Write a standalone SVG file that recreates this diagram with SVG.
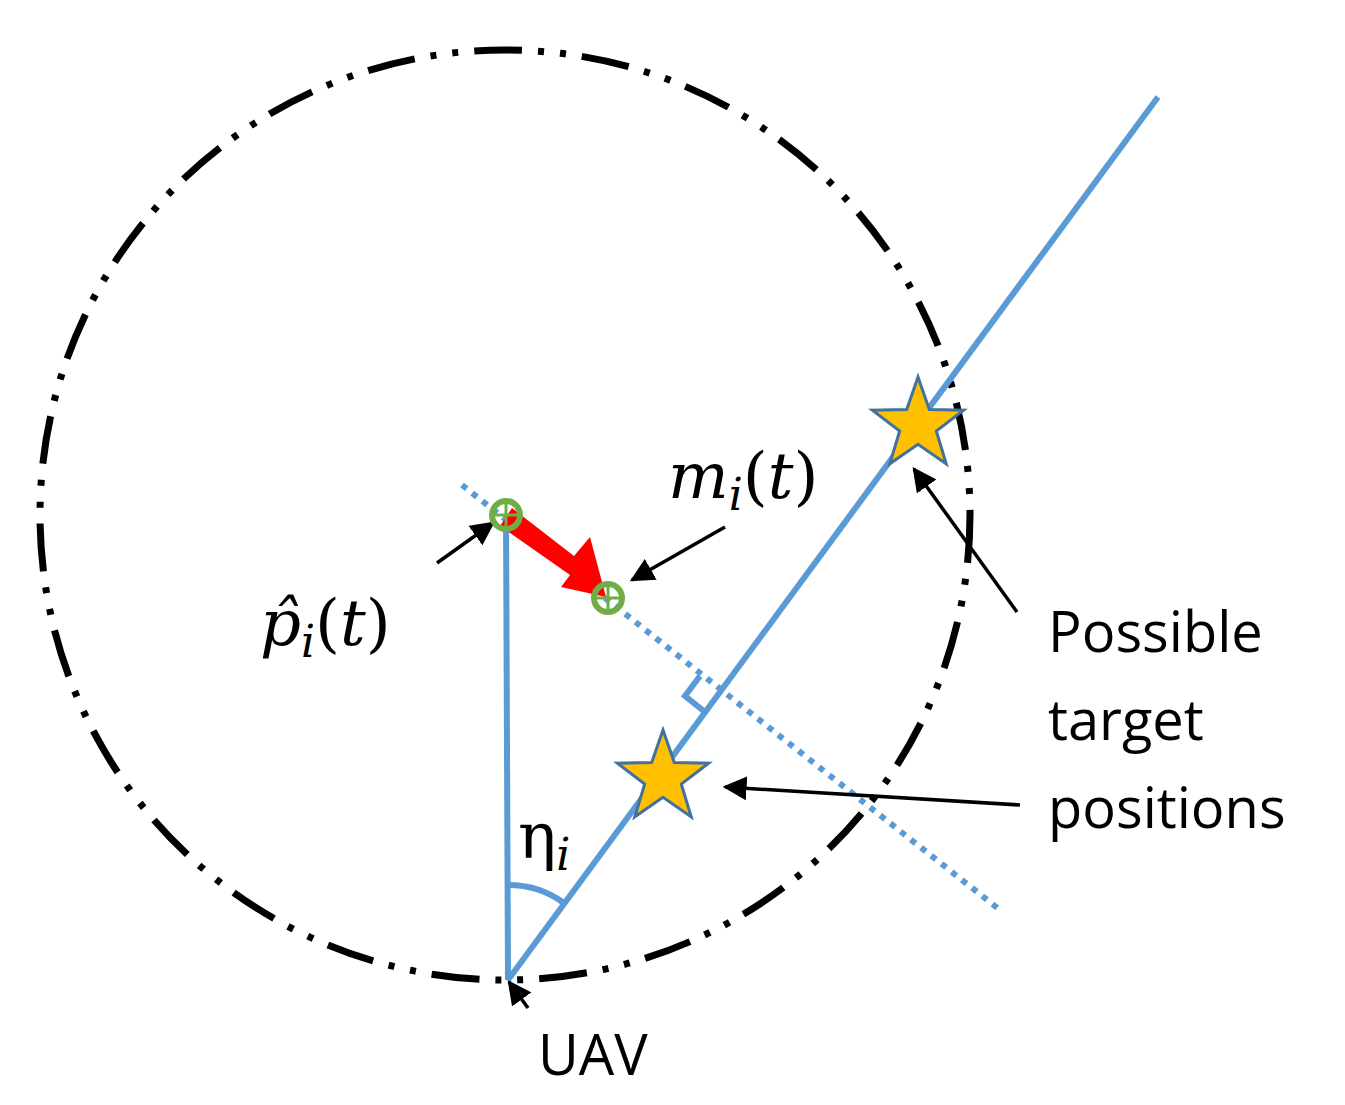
<svg xmlns="http://www.w3.org/2000/svg" width="1345" height="1105" viewBox="0 0 1345 1105">
<defs>
<style>
.blue{stroke:#5B9BD5;stroke-width:6;fill:none}
.ann{stroke:#000;stroke-width:3.5;fill:none}
.lbl{font-family:"Open Sans","Liberation Sans",Arial,sans-serif;font-size:56px;fill:#000}
.math{font-family:"DejaVu Serif","Liberation Serif",serif;font-style:italic;font-size:64px;fill:#000}
.up{font-style:normal}
.star{fill:#FFC000;stroke:#41719C;stroke-width:3}
.gc{fill:none;stroke:#70AD47;stroke-width:6}
</style>
<marker id="ah2" viewBox="0 0 10 10" refX="9" refY="5" markerWidth="24" markerHeight="24" orient="auto" markerUnits="userSpaceOnUse"><path d="M0,0 L10,5 L0,10 z" fill="#000"/></marker>
</defs>
<g id="circle"><ellipse cx="505" cy="515" rx="465" ry="465" fill="none" stroke="#000" stroke-width="7" stroke-dasharray="48,16,6,16,6,16"/></g>
<g id="connectors">
<line class="blue" x1="508" y1="980" x2="1158" y2="97"/>
<line class="blue" x1="506" y1="515" x2="508" y2="980"/>
<line class="blue" x1="462" y1="485" x2="1000" y2="910" stroke-dasharray="6,7"/>
<path class="blue" d="M700,676 L685,696 L705,712" stroke-width="5"/>
<path class="blue" d="M508,885 A95,95 0 0 1 564,903" stroke-width="5"/>
<line class="ann" x1="437" y1="563" x2="493" y2="523" marker-end="url(#ah2)"/>
<line class="ann" x1="725" y1="527" x2="632" y2="580" marker-end="url(#ah2)"/>
<line class="ann" x1="1017" y1="612" x2="914" y2="469" marker-end="url(#ah2)"/>
<line class="ann" x1="1020" y1="805" x2="725" y2="787" marker-end="url(#ah2)"/>
<line class="ann" x1="528" y1="1008" x2="509" y2="982" marker-end="url(#ah2)"/>
</g>
<g id="red-arrow"><path d="M500,526 L512,508 L574,556 L590,537 L606,597 L561,587 L570,575 Z" fill="#FF0000"/></g>
<g id="p-hat"><circle class="gc" cx="506" cy="515" r="14"/><path d="M506,501V529M492,515H520" stroke="#70AD47" stroke-width="3"/></g>
<g id="m-point"><circle class="gc" cx="608" cy="598" r="14"/><path d="M608,584V612M594,598H622" stroke="#70AD47" stroke-width="3"/></g>
<g id="star1"><polygon class="star" points="918,377 929.3,409.4 963.6,410.2 936.3,431 946.2,463.8 918,444.3 889.8,463.8 899.7,431 872.4,410.2 906.7,409.4"/></g>
<g id="star2"><polygon class="star" points="663,730 674.3,762.4 708.6,763.2 681.3,784 691.2,816.8 663,797.3 634.8,816.8 644.7,784 617.4,763.2 651.7,762.4"/></g>
<g id="labels">
<text class="math" x="668" y="498">m<tspan font-size="44" dy="12">i</tspan><tspan dy="-12" class="up">(</tspan>t<tspan class="up">)</tspan></text>
<text class="math" x="260" y="645">p̂<tspan font-size="44" dy="12">i</tspan><tspan dy="-12" class="up">(</tspan>t<tspan class="up">)</tspan></text>
<text class="math up" x="518" y="858">η<tspan style="font-style:italic" font-size="44" dy="12">i</tspan></text>
<text class="lbl" x="1048" y="652">Possible</text>
<text class="lbl" x="1048" y="740">target</text>
<text class="lbl" x="1048" y="828">positions</text>
<text class="lbl" x="538" y="1075">UAV</text>
</g>
</svg>
